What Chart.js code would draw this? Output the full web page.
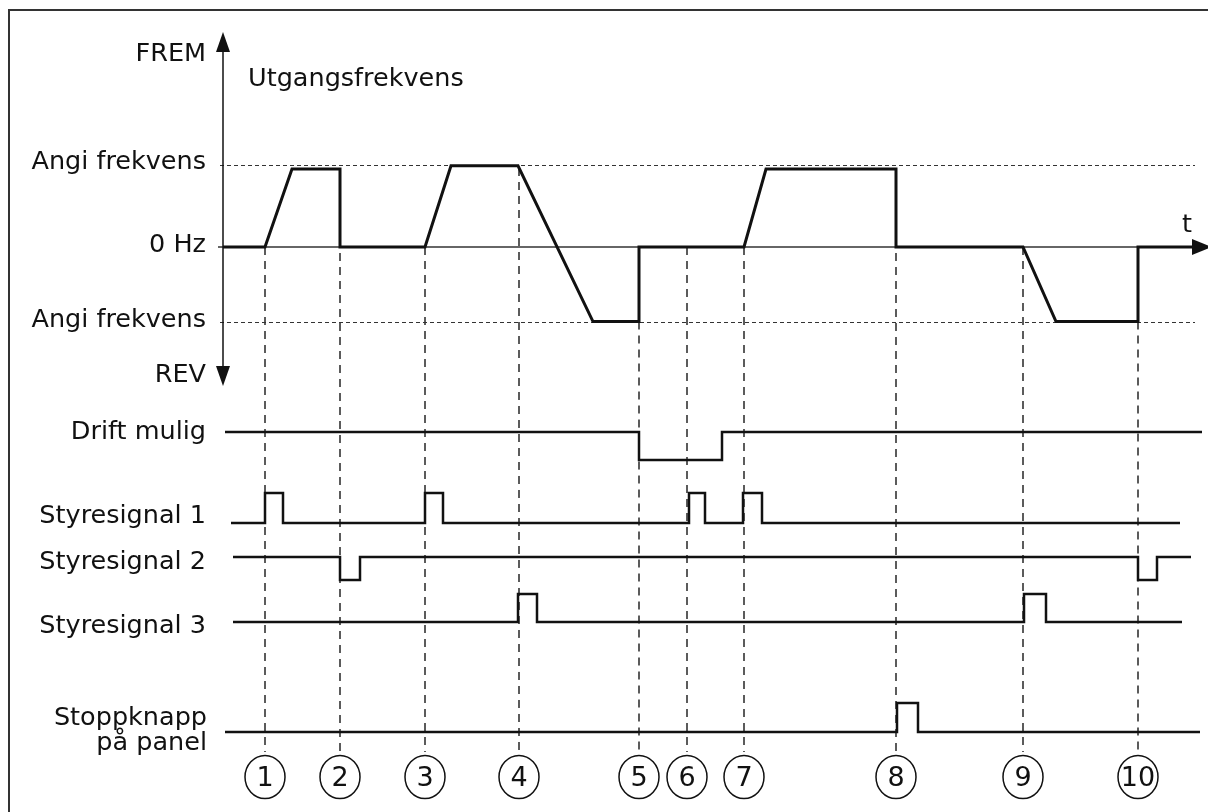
<!DOCTYPE html>
<html>
<head>
<meta charset="utf-8">
<script src="https://cdn.jsdelivr.net/npm/chart.js@4/dist/chart.umd.min.js"></script>
<style>
  html, body { margin: 0; padding: 0; background: #fff; }
  #wrap { width: 1208px; height: 812px; }
</style>
</head>
<body>
<div id="wrap"><canvas id="timingChart" width="1208" height="812"></canvas></div>
<script>
// time positions of the numbered events (same time unit as all series below)
const eventTimes = [265, 340, 425, 519, 639, 687, 744, 896, 1023, 1138];
const eventLabels = ["1", "2", "3", "4", "5", "6", "7", "8", "9", "10"];

// output frequency, % of set frequency (+ = FREM, - = REV)
const freqTimes = [223, 265, 292, 340, 340, 425, 451, 518, 593, 639, 639, 744, 766, 896, 896, 1023, 1056, 1138, 1138, 1195];
const freqValues = [0, 0, 95, 95, 0, 0, 99, 99, -91, -91, 0, 0, 95, 95, 0, 0, -91, -91, 0, 0];
const setFreqLevels = [100, -91];
const axisTime = 223;

// digital signals: time of each change and the new state
const driftTimes = [225, 639, 722, 1202];
const driftStates = [1, 0, 1, 1];
const styre1Times = [231, 265, 283, 425, 443, 689, 705, 743, 762, 1180];
const styre1States = [0, 1, 0, 1, 0, 1, 0, 1, 0, 0];
const styre2Times = [233, 340, 360, 1138, 1157, 1191];
const styre2States = [1, 0, 1, 0, 1, 1];
const styre3Times = [233, 518, 537, 1024, 1046, 1182];
const styre3States = [0, 1, 0, 1, 0, 0];
const stoppTimes = [225, 897, 918, 1200];
const stoppStates = [0, 1, 0, 0];

const W = 1208, H = 812;
const FONT = "25.5px 'DejaVu Sans', Verdana, sans-serif";
const INK = "#111";

// a hidden linear scale that puts value 0 at pixel p0 and value span at pixel p1
function laneScale(p0, p1, span) {
  const k = span / (p0 - p1);
  return { type: "linear", display: false, min: (p0 - H) * k, max: p0 * k };
}

const lanes = [
  { id: "yDrift", label: ["Drift mulig"], times: driftTimes, states: driftStates, p0: 460, p1: 432, textDy: -21 },
  { id: "yS1", label: ["Styresignal 1"], times: styre1Times, states: styre1States, p0: 523, p1: 493, textDy: 0 },
  { id: "yS2", label: ["Styresignal 2"], times: styre2Times, states: styre2States, p0: 580, p1: 557, textDy: -11 },
  { id: "yS3", label: ["Styresignal 3"], times: styre3Times, states: styre3States, p0: 622, p1: 594, textDy: 11 },
  { id: "yStopp", label: ["Stoppknapp", "på panel"], times: stoppTimes, states: stoppStates, p0: 732, p1: 703, textDy: -7 }
];

const scales = {
  x: { type: "linear", display: false, min: 0, max: W },
  yFreq: laneScale(247, 165, 100)
};
lanes.forEach(l => { scales[l.id] = laneScale(l.p0, l.p1, 1); });

const datasets = [{
  data: freqTimes.map((t, i) => ({ x: t, y: freqValues[i] })),
  yAxisID: "yFreq",
  borderColor: INK,
  borderWidth: 3,
  pointRadius: 0,
  showLine: true,
  tension: 0
}];
lanes.forEach(l => {
  datasets.push({
    data: l.times.map((t, i) => ({ x: t, y: l.states[i] })),
    yAxisID: l.id,
    borderColor: INK,
    borderWidth: 2.5,
    pointRadius: 0,
    showLine: true,
    stepped: "before"
  });
});

function freqAt(t) {
  for (let i = 1; i < freqTimes.length; i++) {
    const a = freqTimes[i - 1], b = freqTimes[i];
    if (t >= a && t <= b) {
      if (b === a) return freqValues[i - 1];
      return freqValues[i - 1] + (freqValues[i] - freqValues[i - 1]) * (t - a) / (b - a);
    }
  }
  return 0;
}

const backdrop = {
  id: "backdrop",
  beforeDatasetsDraw(chart) {
    const ctx = chart.ctx, x = chart.scales.x, yf = chart.scales.yFreq;
    ctx.save();
    // set-frequency reference lines
    ctx.strokeStyle = "#333";
    ctx.lineWidth = 1;
    ctx.setLineDash([4, 3]);
    setFreqLevels.forEach(v => {
      const py = Math.round(yf.getPixelForValue(v)) + 0.5;
      ctx.beginPath();
      ctx.moveTo(x.getPixelForValue(axisTime) - 3, py);
      ctx.lineTo(x.getPixelForValue(1195), py);
      ctx.stroke();
    });
    // event lines
    ctx.strokeStyle = "#333";
    ctx.lineWidth = 1.6;
    ctx.setLineDash([8, 6]);
    eventTimes.forEach(t => {
      const px = x.getPixelForValue(t);
      ctx.beginPath();
      ctx.moveTo(px, yf.getPixelForValue(freqAt(t)));
      ctx.lineTo(px, 752);
      ctx.stroke();
    });
    // 0 Hz axis
    ctx.setLineDash([]);
    ctx.strokeStyle = "#333";
    ctx.lineWidth = 1.5;
    const p0 = yf.getPixelForValue(0);
    ctx.beginPath();
    ctx.moveTo(x.getPixelForValue(axisTime) - 5, p0);
    ctx.lineTo(x.getPixelForValue(1196), p0);
    ctx.stroke();
    // frequency axis
    const ax = x.getPixelForValue(axisTime);
    ctx.strokeStyle = INK;
    ctx.beginPath();
    ctx.moveTo(ax, 48);
    ctx.lineTo(ax, 370);
    ctx.stroke();
    ctx.restore();
  },
  afterDraw(chart) {
    const ctx = chart.ctx, x = chart.scales.x, yf = chart.scales.yFreq;
    ctx.save();
    ctx.fillStyle = INK;
    // frame
    ctx.strokeStyle = "#333";
    ctx.lineWidth = 2;
    ctx.beginPath();
    ctx.moveTo(W, 10);
    ctx.lineTo(9, 10);
    ctx.lineTo(9, H);
    ctx.stroke();
    // arrows
    const ax = x.getPixelForValue(axisTime);
    ctx.beginPath();
    ctx.moveTo(ax, 32); ctx.lineTo(ax - 7, 52); ctx.lineTo(ax + 7, 52); ctx.closePath(); ctx.fill();
    ctx.beginPath();
    ctx.moveTo(ax, 386); ctx.lineTo(ax - 7, 366); ctx.lineTo(ax + 7, 366); ctx.closePath(); ctx.fill();
    const p0 = yf.getPixelForValue(0);
    ctx.beginPath();
    ctx.moveTo(1212, p0); ctx.lineTo(1192, p0 - 8); ctx.lineTo(1192, p0 + 8); ctx.closePath(); ctx.fill();

    // texts
    ctx.font = FONT;
    ctx.textBaseline = "alphabetic";
    ctx.textAlign = "right";
    const rx = 206;
    ctx.fillText("FREM", rx, 61);
    ctx.fillText("Angi frekvens", rx, yf.getPixelForValue(setFreqLevels[0]) + 4);
    ctx.fillText("0 Hz", rx, p0 + 5);
    ctx.fillText("Angi frekvens", rx, yf.getPixelForValue(setFreqLevels[1]) + 5);
    ctx.fillText("REV", rx, 382);
    lanes.forEach(l => {
      const base = chart.scales[l.id].getPixelForValue(0);
      if (l.label.length === 1) {
        ctx.fillText(l.label[0], rx, base + l.textDy);
      } else {
        ctx.fillText(l.label[0], rx + 1, base - 7);
        ctx.fillText(l.label[1], rx + 1, base + 18);
      }
    });
    ctx.textAlign = "left";
    ctx.fillText("Utgangsfrekvens", 248, 86);
    ctx.textAlign = "center";
    ctx.fillText("t", 1187, 232);

    // event markers
    ctx.lineWidth = 1.5;
    ctx.strokeStyle = INK;
    ctx.textBaseline = "middle";
    ctx.font = "27px 'DejaVu Sans', Verdana, sans-serif";
    eventTimes.forEach((t, i) => {
      const px = x.getPixelForValue(t);
      ctx.beginPath();
      ctx.ellipse(px, 777, 20, 21.5, 0, 0, Math.PI * 2);
      ctx.stroke();
      ctx.fillText(eventLabels[i], px, 779);
    });
    ctx.restore();
  }
};

new Chart(document.getElementById("timingChart").getContext("2d"), {
  type: "scatter",
  data: { datasets: datasets },
  options: {
    responsive: false,
    animation: false,
    events: [],
    layout: { padding: 0 },
    plugins: { legend: { display: false }, tooltip: { enabled: false } },
    scales: scales
  },
  plugins: [backdrop]
});
</script>
</body>
</html>
